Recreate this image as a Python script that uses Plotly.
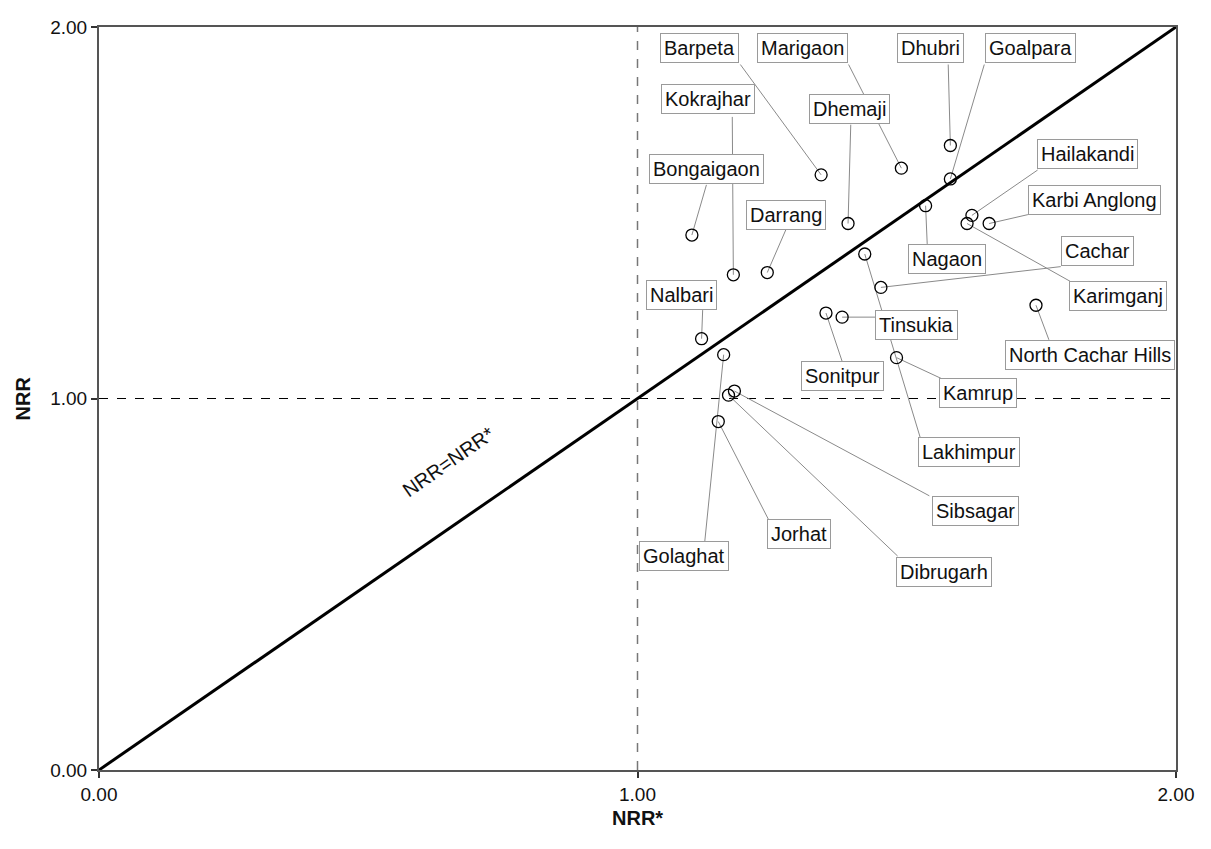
import plotly.graph_objects as go

# ---- data ----
districts = ["Barpeta", "Marigaon", "Dhubri", "Goalpara", "Dhemaji", "Bongaigaon",
             "Kokrajhar", "Darrang", "Nagaon", "Hailakandi", "Karbi Anglong", "Karimganj",
             "Lakhimpur", "Cachar", "Sonitpur", "Tinsukia", "North Cachar Hills", "Kamrup",
             "Nalbari", "Golaghat", "Jorhat", "Sibsagar", "Dibrugarh"]
nrr_star = [1.341, 1.490, 1.581, 1.581, 1.391, 1.101,
            1.178, 1.241, 1.535, 1.621, 1.653, 1.612,
            1.422, 1.452, 1.350, 1.380, 1.740, 1.481,
            1.119, 1.160, 1.150, 1.180, 1.169]
nrr = [1.602, 1.620, 1.681, 1.591, 1.471, 1.440,
       1.333, 1.339, 1.519, 1.493, 1.471, 1.471,
       1.389, 1.299, 1.230, 1.219, 1.251, 1.110,
       1.161, 1.118, 0.938, 1.020, 1.009]

x_ticks = [0, 1, 2]
y_ticks = [0, 1, 2]
tick_text = ["0.00", "1.00", "2.00"]

# ---- label placement (layout only): label centre and leader-line anchor ----
label_pos = {
    "Barpeta": (1.115, 1.944, 1.191, 1.899),
    "Marigaon": (1.306, 1.944, 1.392, 1.899),
    "Dhubri": (1.544, 1.944, 1.577, 1.899),
    "Goalpara": (1.729, 1.944, 1.644, 1.899),
    "Kokrajhar": (1.130, 1.806, 1.176, 1.758),
    "Dhemaji": (1.394, 1.780, 1.396, 1.737),
    "Bongaigaon": (1.128, 1.618, 1.128, 1.575),
    "Hailakandi": (1.836, 1.657, 1.743, 1.615),
    "Darrang": (1.276, 1.495, 1.276, 1.456),
    "Karbi Anglong": (1.849, 1.535, 1.725, 1.495),
    "Nagaon": (1.575, 1.376, 1.538, 1.416),
    "Cachar": (1.854, 1.397, 1.786, 1.355),
    "Nalbari": (1.082, 1.278, 1.121, 1.238),
    "Karimganj": (1.893, 1.275, 1.804, 1.315),
    "Tinsukia": (1.518, 1.198, 1.442, 1.219),
    "North Cachar Hills": (1.841, 1.118, 1.764, 1.158),
    "Sonitpur": (1.380, 1.060, 1.380, 1.100),
    "Kamrup": (1.632, 1.015, 1.564, 1.054),
    "Lakhimpur": (1.616, 0.855, 1.525, 0.895),
    "Sibsagar": (1.627, 0.696, 1.542, 0.738),
    "Jorhat": (1.300, 0.635, 1.243, 0.675),
    "Golaghat": (1.086, 0.576, 1.125, 0.616),
    "Dibrugarh": (1.570, 0.534, 1.483, 0.576),
}

FONT = "Arial, Liberation Sans, sans-serif"

fig = go.Figure()

# leader lines
lx, ly = [], []
for name, px, py in zip(districts, nrr_star, nrr):
    _, _, axp, ayp = label_pos[name]
    lx += [px, axp, None]
    ly += [py, ayp, None]
fig.add_trace(go.Scatter(x=lx, y=ly, mode="lines",
                         line=dict(color="#8a8a8a", width=1),
                         hoverinfo="skip", showlegend=False))

# points
fig.add_trace(go.Scatter(x=nrr_star, y=nrr, mode="markers", text=districts,
                         marker=dict(symbol="circle-open", size=12, color="black",
                                     line=dict(width=1.3, color="black")),
                         showlegend=False))

shapes = [
    dict(type="line", xref="x", yref="y", x0=1, x1=1, y0=0, y1=2,
         line=dict(color="#777", width=1.5, dash="dash"), layer="below"),
    dict(type="line", xref="x", yref="y", x0=0, x1=2, y0=1, y1=1,
         line=dict(color="black", width=1.2, dash="dash"), layer="below"),
    dict(type="line", xref="x", yref="y", x0=0, x1=2, y0=0, y1=2,
         line=dict(color="black", width=3), layer="below"),
]

annotations = []
for name in districts:
    cx, cy, _, _ = label_pos[name]
    annotations.append(dict(x=cx, y=cy, xref="x", yref="y", text=name,
                            showarrow=False, bgcolor="white",
                            bordercolor="#9a9a9a", borderwidth=1, borderpad=3,
                            font=dict(family=FONT, size=20, color="#111")))

annotations.append(dict(x=0.648, y=0.830, xref="x", yref="y", text="NRR=NRR*",
                        showarrow=False, textangle=-34.8,
                        font=dict(family=FONT, size=20, color="#111")))
annotations.append(dict(x=0.5, y=0, xref="paper", yref="paper", text="<b>NRR*</b>",
                        showarrow=False, yshift=-48, yanchor="middle",
                        font=dict(family=FONT, size=20, color="#111")))
annotations.append(dict(x=0, y=0.5, xref="paper", yref="paper", text="<b>NRR</b>",
                        showarrow=False, xshift=-77, xanchor="center", textangle=-90,
                        font=dict(family=FONT, size=20, color="#111")))

axis_common = dict(range=[0, 2], showgrid=False, zeroline=False,
                   showline=True, mirror=True, linecolor="#555", linewidth=2,
                   ticks="outside", ticklen=6, tickcolor="#333", tickwidth=1.5,
                   tickfont=dict(family=FONT, size=19, color="#111"))

# page body has an 8px margin: shrink figure and margins to compensate
fig.update_layout(
    width=1195, height=833,
    margin=dict(l=91, r=21, t=9, b=71),
    paper_bgcolor="white", plot_bgcolor="white",
    xaxis=dict(tickvals=x_ticks, ticktext=tick_text, **axis_common),
    yaxis=dict(tickvals=y_ticks, ticktext=tick_text, **axis_common),
    shapes=shapes, annotations=annotations,
)

fig.write_html("out.html")
